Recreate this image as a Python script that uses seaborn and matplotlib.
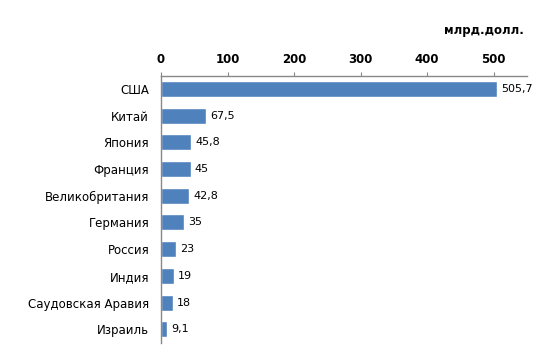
import matplotlib
matplotlib.use('Agg')
import matplotlib.pyplot as plt
import seaborn as sns
import pandas as pd

countries = ['США', 'Китай', 'Япония', 'Франция', 'Великобритания',
             'Германия', 'Россия', 'Индия', 'Саудовская Аравия', 'Израиль']
values = [505.7, 67.5, 45.8, 45, 42.8, 35, 23, 19, 18, 9.1]
value_labels = ['505,7', '67,5', '45,8', '45', '42,8', '35', '23', '19', '18', '9,1']
ticks = [0, 100, 200, 300, 400, 500]

sns.set_style('white')
plt.rcParams['font.family'] = ['DejaVu Sans']

df = pd.DataFrame({'country': countries, 'value': values})

fig = plt.figure(figsize=(5.54, 3.55), dpi=100)
ax = fig.add_axes([0.2906, 0.035, 0.6604, 0.752])
sns.barplot(data=df, x='value', y='country', orient='h', color='#4F81BD',
            saturation=1, width=0.6, ax=ax)

ax.set_xlim(0, 550)
ax.set_ylim(9.5, -0.5)
ax.xaxis.tick_top()
ax.set_xticks(ticks)
ax.set_xticklabels([str(t) for t in ticks], fontsize=8.5, fontweight='bold', color='black')
ax.tick_params(axis='x', direction='out', length=3, color='#888888', pad=4)
ax.set_xlabel('')
ax.set_ylabel('')

ax.set_yticks(range(len(countries)))
ax.set_yticklabels(countries, fontsize=8.5, color='black')
ax.set_yticks([i - 0.5 for i in range(len(countries) + 1)], minor=True)
ax.tick_params(axis='y', which='major', length=0, pad=8.5)
ax.tick_params(axis='y', which='minor', direction='out', length=3, color='#888888')

for s in ['right', 'bottom']:
    ax.spines[s].set_visible(False)
for s in ['left', 'top']:
    ax.spines[s].set_color('#888888')
    ax.spines[s].set_linewidth(1)

for i, (v, lab) in enumerate(zip(values, value_labels)):
    ax.text(v + 6, i, lab, va='center', ha='left', fontsize=8, color='black')

fig.text(0.946, 0.915, 'млрд.долл.', ha='right', va='center', fontsize=8.5,
         fontweight='bold', color='black')

fig.savefig('out.png', dpi=100)
